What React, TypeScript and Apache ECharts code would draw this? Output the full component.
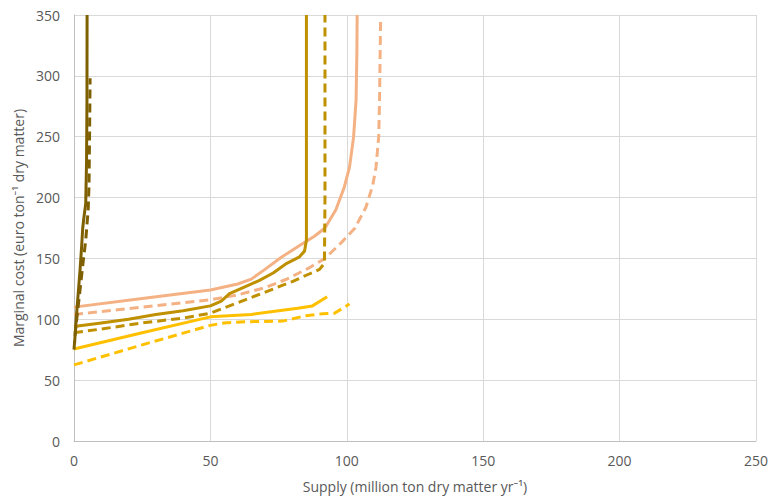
import React, { useEffect, useRef } from "react";
import * as echarts from "echarts";

const xTicks = [0, 50, 100, 150, 200, 250];
const yTicks = [0, 50, 100, 150, 200, 250, 300, 350];

const brownSolid: [number, number][] = [[0.2, 80], [0.8, 100], [1.5, 120], [2.2, 140], [2.8, 160], [3.2, 175], [3.6, 183], [4.3, 195], [4.6, 230], [4.75, 280], [4.8, 350]];
const brownDashed: [number, number][] = [[0, 75], [0.5, 90], [1.5, 110], [2.5, 130], [3.5, 150], [4.3, 165], [5.2, 190], [5.5, 210], [5.7, 250], [5.9, 298]];
const goldSolid: [number, number][] = [[0, 94], [10, 97], [20, 100], [30, 104], [40, 107], [50, 111], [54, 115], [57, 121], [62, 126], [68, 132], [73, 138], [78, 146], [82.5, 151], [84.5, 156], [85.2, 165], [85.2, 250], [85.2, 350]];
const goldDashed: [number, number][] = [[0, 89], [10, 92], [25, 97], [40, 101], [50, 105], [57, 111], [64, 117], [72, 124], [80, 131], [86, 137], [90, 141], [91.8, 146], [92, 200], [92, 350]];
const salmonSolid: [number, number][] = [[0, 110], [25, 117], [50, 124], [60, 129], [65, 133], [70, 141], [76, 151], [83, 161], [88, 168], [92, 175], [96, 190], [99, 208], [101, 225], [102.5, 250], [103.4, 280], [103.7, 320], [103.8, 350]];
const salmonDashed: [number, number][] = [[0, 104], [25, 110], [50, 116], [60, 120], [70, 126], [78, 133], [86, 142], [92, 150], [98, 163], [103, 175], [107, 192], [109.5, 210], [110.7, 225], [111.7, 250], [112, 280], [112.4, 348]];
const yellowSolid: [number, number][] = [[0, 75.6], [25, 89], [50, 102], [65, 104], [75, 107], [82, 109], [87.4, 111], [92.8, 118.5]];
const yellowDashed: [number, number][] = [[0, 62.5], [25, 79], [50, 95], [55, 97], [63, 98], [76.5, 98.5], [85, 103], [91, 104.5], [95.5, 105], [101, 112.5]];

const BROWN = "#7F6000";
const GOLD = "#BF9000";
const SALMON = "#F4B183";
const YELLOW = "#FFC000";
const DASH = [9, 5];

export default function App() {
  const ref = useRef<HTMLDivElement>(null);
  useEffect(() => {
    if (!ref.current) return;
    const chart = echarts.init(ref.current, null, { renderer: "svg" });
    const mk = (data: [number, number][], color: string, dashed: boolean, z: number) => ({
      type: "line",
      data,
      showSymbol: false,
      symbol: "none",
      z,
      lineStyle: { color, width: 3, type: dashed ? DASH : "solid", cap: "butt", join: "round" },
    });
    const font = "'Open Sans', 'Noto Sans', sans-serif";
    chart.setOption({
      animation: false,
      textStyle: { fontFamily: font },
      grid: { left: 74, right: 13, top: 15, bottom: 61, containLabel: false },
      xAxis: {
        type: "value",
        min: xTicks[0],
        max: xTicks[xTicks.length - 1],
        interval: 50,
        name: "Supply (million ton dry matter yr\u207B\u00B9)",
        nameLocation: "middle",
        nameGap: 38,
        nameTextStyle: { color: "#595959", fontSize: 14, fontFamily: font },
        axisLine: { show: true, lineStyle: { color: "#BFBFBF", width: 1 } },
        axisTick: { show: false },
        axisLabel: { color: "#595959", fontSize: 14, margin: 12, fontFamily: font },
        splitLine: { show: true, lineStyle: { color: "#D9D9D9", width: 1 } },
      },
      yAxis: {
        type: "value",
        min: yTicks[0],
        max: yTicks[yTicks.length - 1],
        interval: 50,
        name: "Marginal cost (euro ton\u207B\u00B9 dry matter)",
        nameLocation: "middle",
        nameGap: 48,
        nameTextStyle: { color: "#595959", fontSize: 14, fontFamily: font },
        axisLine: { show: true, lineStyle: { color: "#BFBFBF", width: 1 } },
        axisTick: { show: false },
        axisLabel: { color: "#595959", fontSize: 14, margin: 14, fontFamily: font },
        splitLine: { show: true, lineStyle: { color: "#D9D9D9", width: 1 } },
      },
      series: [
        mk(yellowDashed, YELLOW, true, 2),
        mk(yellowSolid, YELLOW, false, 2),
        mk(salmonDashed, SALMON, true, 2),
        mk(salmonSolid, SALMON, false, 2),
        mk(goldDashed, GOLD, true, 3),
        mk(goldSolid, GOLD, false, 3),
        mk(brownDashed, BROWN, true, 4),
        mk(brownSolid, BROWN, false, 4),
      ],
    });
    return () => chart.dispose();
  }, []);
  return (
    <div
      ref={ref}
      style={{ position: "fixed", left: 0, top: 0, width: 771, height: 502, background: "#fff" }}
    />
  );
}
